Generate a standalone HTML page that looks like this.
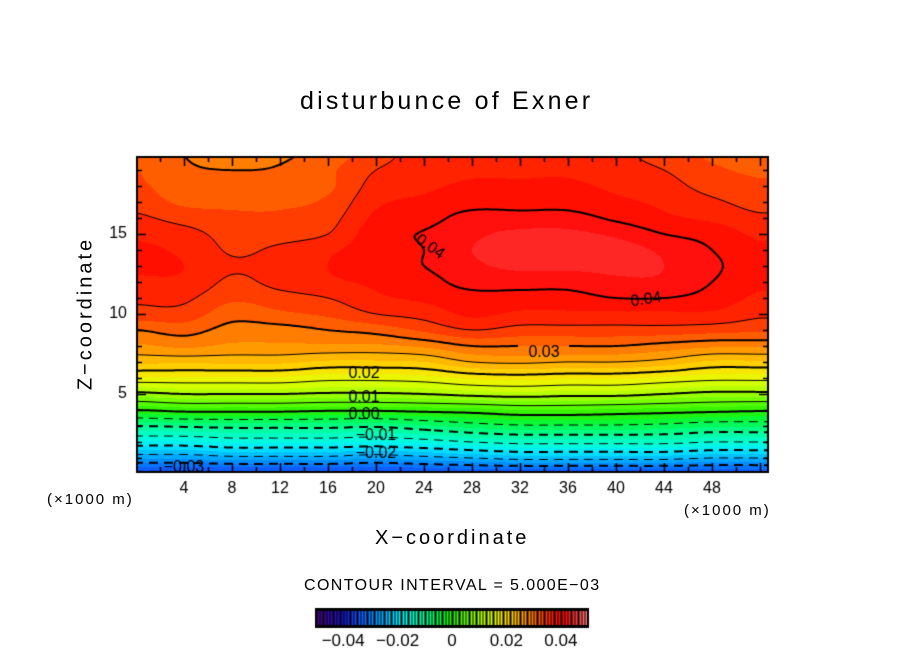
<!DOCTYPE html>
<html><head><meta charset="utf-8"><style>
body{margin:0;background:#fff;}
#wrap{position:relative;width:904px;height:654px;overflow:hidden;font-family:"Liberation Sans",sans-serif;}
canvas{position:absolute;left:0;top:0;}
.t{position:absolute;color:#000;white-space:nowrap;}
</style></head><body>
<div id="wrap">
<canvas id="cv" width="904" height="654"></canvas>
<div class="t" style="left:300px;top:87px;font-size:25px;letter-spacing:3.2px;">disturbunce of Exner</div>
<div class="t" style="left:375px;top:527px;font-size:20px;letter-spacing:3px;">X−coordinate</div>
<div class="t" style="left:6px;top:302px;font-size:20px;letter-spacing:3px;transform:rotate(-90deg);transform-origin:center;width:160px;text-align:center;">Z−coordinate</div>
<div class="t" style="left:47px;top:491px;font-size:15px;letter-spacing:2px;">(×1000 m)</div>
<div class="t" style="left:684px;top:502px;font-size:15px;letter-spacing:2px;">(×1000 m)</div>
<div class="t" style="left:304px;top:577px;font-size:16px;letter-spacing:1.4px;">CONTOUR INTERVAL = 5.000E−03</div>
</div>
<script>
const xCols=[0,4,8,12,16,20,24,28,32,36,40,44,48,52];
const zRows=[0,1,2,3,4,5,6,7,8,9,10,11,12,13,14,15,16,17,18,19,20];
const fieldByColumn=[
[-0.036,-0.027,-0.018,-0.010,0.000,0.009,0.017,0.023,0.027,0.030,0.034,0.0355,0.037,0.038,0.038,0.037,0.0355,0.034,0.033,0.0325,0.032],
[-0.036,-0.027,-0.018,-0.0095,0.001,0.010,0.017,0.023,0.028,0.031,0.034,0.0355,0.037,0.0375,0.037,0.036,0.034,0.032,0.031,0.0305,0.030],
[-0.036,-0.026,-0.017,-0.009,0.001,0.010,0.017,0.023,0.027,0.029,0.031,0.033,0.0345,0.0353,0.0347,0.034,0.033,0.032,0.031,0.030,0.028],
[-0.036,-0.026,-0.017,-0.009,0.001,0.010,0.017,0.023,0.027,0.029,0.032,0.034,0.0358,0.036,0.0355,0.034,0.033,0.032,0.031,0.0303,0.0295],
[-0.036,-0.026,-0.017,-0.009,0.0005,0.0095,0.016,0.022,0.027,0.030,0.033,0.035,0.037,0.0375,0.037,0.035,0.034,0.033,0.032,0.032,0.031],
[-0.036,-0.027,-0.0175,-0.0095,0.0005,0.0095,0.016,0.022,0.027,0.031,0.035,0.037,0.038,0.039,0.039,0.039,0.038,0.037,0.036,0.035,0.034],
[-0.0355,-0.026,-0.0165,-0.008,0.001,0.010,0.0165,0.0225,0.028,0.033,0.036,0.038,0.039,0.040,0.040,0.0402,0.039,0.038,0.037,0.036,0.036],
[-0.035,-0.025,-0.015,-0.0065,0.0015,0.011,0.018,0.025,0.030,0.035,0.038,0.039,0.041,0.042,0.0425,0.042,0.041,0.039,0.038,0.037,0.037],
[-0.035,-0.024,-0.014,-0.0055,0.0025,0.0115,0.0185,0.0255,0.030,0.034,0.037,0.039,0.041,0.043,0.0435,0.043,0.041,0.039,0.038,0.037,0.037],
[-0.035,-0.024,-0.014,-0.0055,0.0025,0.011,0.018,0.025,0.030,0.034,0.037,0.039,0.041,0.043,0.0435,0.043,0.041,0.039,0.038,0.037,0.036],
[-0.035,-0.024,-0.014,-0.0055,0.002,0.011,0.018,0.025,0.030,0.034,0.037,0.040,0.042,0.043,0.0435,0.042,0.0395,0.038,0.037,0.036,0.0355],
[-0.035,-0.024,-0.014,-0.006,0.0015,0.010,0.017,0.024,0.029,0.034,0.037,0.040,0.042,0.0425,0.042,0.040,0.038,0.037,0.036,0.035,0.034],
[-0.035,-0.025,-0.015,-0.007,0.001,0.009,0.016,0.022,0.028,0.0335,0.037,0.039,0.040,0.0405,0.040,0.039,0.037,0.0355,0.034,0.033,0.032],
[-0.035,-0.025,-0.015,-0.007,0.0005,0.009,0.016,0.022,0.028,0.033,0.0355,0.037,0.038,0.0385,0.038,0.037,0.0355,0.034,0.033,0.032,0.031]
];
const contourLabels=[
{text:"0.04",x:24.5,z:14.2,rot:35},{text:"0.04",x:42.5,z:10.9,rot:-8},
{text:"0.03",x:34,z:7.6,rot:0},{text:"0.02",x:19,z:6.3,rot:0},
{text:"0.01",x:19,z:4.8,rot:0},{text:"0.00",x:19,z:3.7,rot:0},
{text:"−0.01",x:20,z:2.4,rot:0},{text:"−0.02",x:20,z:1.3,rot:0},{text:"−0.03",x:4,z:0.4,rot:0}
];
const xTickLabels=[4,8,12,16,20,24,28,32,36,40,44,48];
const zTickLabels=[5,10,15];
const cbTicks=[-0.04,-0.02,0,0.02,0.04];
const cbTickText=["−0.04","−0.02","0","0.02","0.04"];

const X0=137,X1=768,Y0=157,Y1=472;
const xs=x=>136+12*x, ys=z=>474-16*z;
const xi=px=>(px-136)/12, zi=py=>(474-py)/16;

function cr(p0,p1,p2,p3,t){return 0.5*((2*p1)+(-p0+p2)*t+(2*p0-5*p1+4*p2-p3)*t*t+(-p0+3*p1-3*p2+p3)*t*t*t);}
function colAt(c,z){const n=zRows.length;let u=Math.max(0,Math.min(n-1.0001,z));const i=Math.floor(u),t=u-i;const a=fieldByColumn[c];
 const g=k=>a[Math.max(0,Math.min(n-1,k))];return cr(g(i-1),g(i),g(i+1),g(i+2),t);}
function val(x,z){const n=xCols.length;let u=Math.max(0,Math.min(n-1.0001,x/4));const i=Math.floor(u),t=u-i;
 const g=k=>colAt(Math.max(0,Math.min(n-1,k)),z);return cr(g(i-1),g(i),g(i+1),g(i+2),t);}

const stops=[[-0.05,[80,0,140]],[-0.04,[20,20,200]],[-0.035,[20,80,255]],[-0.03,[0,130,255]],[-0.025,[0,180,255]],[-0.02,[0,235,255]],[-0.015,[0,255,210]],[-0.01,[0,255,150]],[-0.005,[0,250,70]],[0,[40,240,0]],[0.005,[100,255,0]],[0.01,[170,255,0]],[0.015,[225,255,0]],[0.02,[255,220,0]],[0.025,[255,170,0]],[0.03,[255,110,0]],[0.035,[255,45,0]],[0.04,[255,5,0]],[0.045,[255,50,50]],[0.05,[255,130,130]]];
function cmap(v){if(v<=stops[0][0])return stops[0][1];for(let i=1;i<stops.length;i++){if(v<=stops[i][0]){const a=stops[i-1],b=stops[i],t=(v-a[0])/(b[0]-a[0]);return a[1].map((q,k)=>Math.round(q+(b[1][k]-q)*t));}}return stops[stops.length-1][1];}
function binColor(v){const b=Math.floor(v/0.0025);return cmap((b+0.5)*0.0025);}

const cv=document.getElementById('cv'),ctx=cv.getContext('2d');
const W=X1-X0,H=Y1-Y0;
const img=ctx.createImageData(W,H);
for(let j=0;j<H;j++){const z=zi(Y0+j+0.5);for(let i=0;i<W;i++){const c=binColor(val(xi(X0+i+0.5),z));const o=(j*W+i)*4;img.data[o]=c[0];img.data[o+1]=c[1];img.data[o+2]=c[2];img.data[o+3]=255;}}
ctx.putImageData(img,X0,Y0);

const S=3;const nx=Math.ceil(W/S)+1,ny=Math.ceil(H/S)+1;const G=[];
for(let j=0;j<ny;j++){G[j]=[];for(let i=0;i<nx;i++)G[j][i]=val(xi(X0+i*S),zi(Y0+j*S));}
ctx.save();ctx.beginPath();ctx.rect(X0,Y0,W,H);ctx.clip();
for(let L=-7;L<=9;L++){const lev=L*0.005;const thick=(L%2===0);ctx.strokeStyle='#000';ctx.lineWidth=thick?2:1;
 ctx.beginPath();
 for(let j=0;j<ny-1;j++)for(let i=0;i<nx-1;i++){
  const a=G[j][i],b=G[j][i+1],c=G[j+1][i+1],d=G[j+1][i];const pts=[];
  const px=(ii)=>X0+ii*S,py=(jj)=>Y0+jj*S;
  if((a-lev)*(b-lev)<0){const t=(lev-a)/(b-a);pts.push([px(i+t),py(j)]);}
  if((b-lev)*(c-lev)<0){const t=(lev-b)/(c-b);pts.push([px(i+1),py(j+t)]);}
  if((d-lev)*(c-lev)<0){const t=(lev-d)/(c-d);pts.push([px(i+t),py(j+1)]);}
  if((a-lev)*(d-lev)<0){const t=(lev-a)/(d-a);pts.push([px(i),py(j+t)]);}
  if(pts.length>=2){if(L<0&&Math.floor(pts[0][0]/5)%3===2)continue;ctx.moveTo(pts[0][0],pts[0][1]);ctx.lineTo(pts[1][0],pts[1][1]);
   if(pts.length===4){ctx.moveTo(pts[2][0],pts[2][1]);ctx.lineTo(pts[3][0],pts[3][1]);}}
 }
 ctx.stroke();}
ctx.restore();
ctx.fillStyle='#000';ctx.font='16px "Liberation Sans", sans-serif';ctx.textAlign='center';ctx.textBaseline='middle';
contourLabels.forEach(l=>{ctx.save();ctx.translate(xs(l.x),ys(l.z));ctx.rotate(l.rot*Math.PI/180);ctx.fillText(l.text,0,0);ctx.restore();});
ctx.strokeStyle='#000';ctx.lineWidth=2;ctx.strokeRect(X0,Y0,W,H);
ctx.lineWidth=1.5;ctx.beginPath();
for(let x=2;x<=52;x+=2){const p=Math.round(xs(x))+0.5;const len=(x%4===0)?9:5;ctx.moveTo(p,Y1);ctx.lineTo(p,Y1-len);ctx.moveTo(p,Y0);ctx.lineTo(p,Y0+len);}
for(let z=1;z<=19;z++){const p=Math.round(ys(z))+0.5;const len=(z%5===0)?9:5;ctx.moveTo(X0,p);ctx.lineTo(X0+len,p);ctx.moveTo(X1,p);ctx.lineTo(X1-len,p);}
ctx.stroke();
ctx.font='16px "Liberation Sans", sans-serif';ctx.textBaseline='middle';
xTickLabels.forEach(x=>{ctx.textAlign='center';ctx.fillText(String(x),xs(x),489);});
zTickLabels.forEach(z=>{ctx.textAlign='right';ctx.fillText(String(z),127,ys(z));});
const CB0=316,CB1=588,CBy=609,CBh=18;const cbx=v=>CB0+(v+0.05)/0.1*(CB1-CB0);
ctx.fillStyle='#000';ctx.fillRect(CB0,CBy,CB1-CB0,CBh);
for(let k=0;k<80;k++){const v=-0.05+(k+0.5)*0.1/80;const c=cmap(v);ctx.fillStyle='rgb('+c.join(',')+')';ctx.fillRect(Math.round(cbx(v))-0.5,CBy+2,2,CBh-4);}
ctx.strokeStyle='#000';ctx.lineWidth=2;ctx.strokeRect(CB0,CBy,CB1-CB0,CBh);
ctx.fillStyle='#000';ctx.textAlign='center';ctx.font='17px "Liberation Sans", sans-serif';
cbTicks.forEach((v,i)=>ctx.fillText(cbTickText[i],cbx(v),641));
</script>
</body></html>
